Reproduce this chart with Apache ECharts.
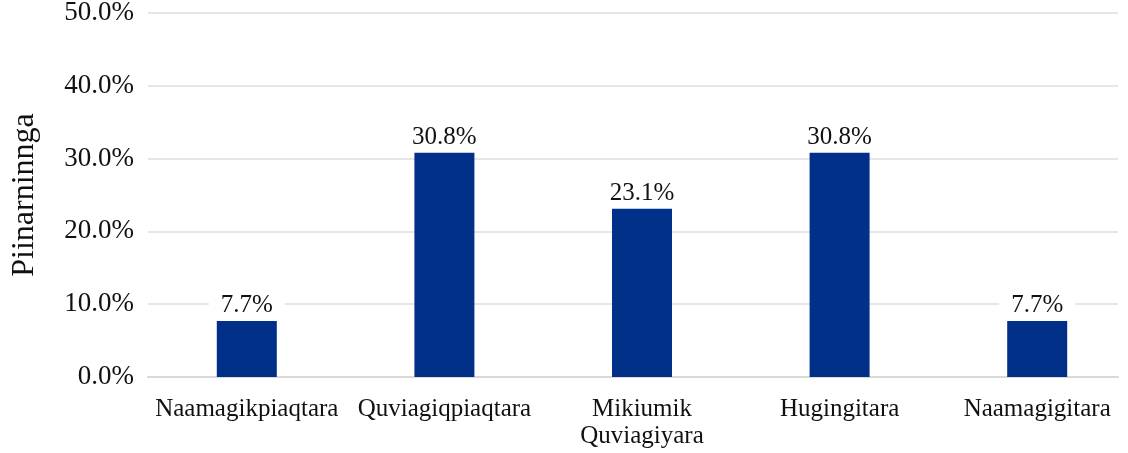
<!DOCTYPE html>
<html>
<head>
<meta charset="utf-8">
<script src="https://cdn.jsdelivr.net/npm/echarts@6/dist/echarts.min.js"></script>
<style>
  html, body { margin: 0; padding: 0; background: #fff; }
  #chart { width: 1128px; height: 453px; }
</style>
</head>
<body>
<div id="chart"></div>
<script>
const categories = ['Naamagikpiaqtara', 'Quviagiqpiaqtara', 'Mikiumik\nQuviagiyara', 'Hugingitara', 'Naamagigitara']
const values = [7.7, 30.8, 23.1, 30.8, 7.7]
const yTicks = { min: 0, max: 50, interval: 10 }

const font = '"Liberation Serif", "Times New Roman", serif'
const chart = echarts.init(document.getElementById('chart'))

chart.setOption({
  animation: false,
  textStyle: { fontFamily: font },
  grid: [
    // bars
    { left: 148, width: 988, top: 13, bottom: 76, outerBoundsMode: 'none' },
    // grid lines / baseline only
    { left: 148, right: 10, top: 13, bottom: 76, outerBoundsMode: 'none' },
  ],
  xAxis: [
    {
      type: 'category',
      gridIndex: 0,
      data: categories,
      axisTick: { show: false },
      axisLine: { show: false },
      axisLabel: { color: '#111', fontSize: 25, fontFamily: font, margin: 19, lineHeight: 27, interval: 0 },
    },
    {
      type: 'category',
      gridIndex: 1,
      data: categories,
      axisTick: { show: false },
      axisLabel: { show: false },
      axisLine: { lineStyle: { color: '#d9d9d9', width: 2 } },
    },
  ],
  yAxis: [
    {
      type: 'value',
      gridIndex: 0,
      min: yTicks.min,
      max: yTicks.max,
      interval: yTicks.interval,
      name: 'Piinarninnga',
      nameLocation: 'middle',
      nameGap: 107,
      nameTextStyle: { color: '#111', fontSize: 32, fontFamily: font },
      axisLabel: {
        color: '#111', fontSize: 27, fontFamily: font, margin: 14,
        formatter: (v) => v.toFixed(1) + '%',
      },
      splitLine: { show: false },
    },
    {
      type: 'value',
      gridIndex: 1,
      min: yTicks.min,
      max: yTicks.max,
      interval: yTicks.interval,
      axisLabel: { show: false },
      splitLine: { lineStyle: { color: '#e6e6e6', width: 2 } },
    },
  ],
  series: [
    {
      type: 'bar',
      xAxisIndex: 0,
      yAxisIndex: 0,
      data: values,
      barWidth: 60,
      z: 3,
      itemStyle: { color: '#003087' },
      label: {
        show: true,
        position: 'top',
        distance: 3,
        color: '#111',
        fontSize: 25,
        fontFamily: font,
        backgroundColor: '#fff',
        padding: [0, 12, 0, 12],
        formatter: (p) => p.value.toFixed(1) + '%',
      },
    },
  ],
})
</script>
</body>
</html>
